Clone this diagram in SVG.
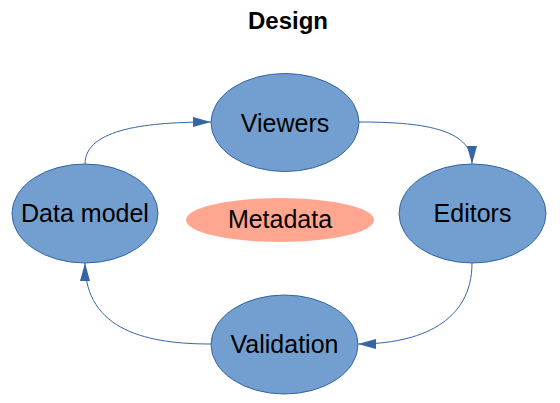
<svg xmlns="http://www.w3.org/2000/svg" width="560" height="403" viewBox="0 0 560 403">
<style>
.node{fill:#729fcf;stroke:#3465a4;stroke-width:1}
.meta{fill:#ffa690;stroke:none}
.lbl{font-family:"Liberation Sans",Arial,sans-serif;font-size:25px;fill:#000;text-anchor:middle}
.title{font-family:"Liberation Sans",Arial,sans-serif;font-size:24px;font-weight:bold;fill:#000;text-anchor:middle}
.conn{fill:none;stroke:#3465a4;stroke-width:1}
</style>
<defs>
<marker id="arr" viewBox="0 0 18 10" refX="18" refY="5" markerWidth="18" markerHeight="10" markerUnits="userSpaceOnUse" orient="auto">
<path d="M0,0 L18,5 L0,10 Z" fill="#3465a4"/>
</marker>
</defs>
<rect width="560" height="403" fill="#fff"/>
<text class="title" x="288" y="29">Design</text>
<g id="connectors">
<path class="conn" d="M85,164 C85,128 150,122 211,122" marker-end="url(#arr)"/>
<path class="conn" d="M359,122 C420,122 472,128 472,164" marker-end="url(#arr)"/>
<path class="conn" d="M472,263 C472,322 420,344 358,344" marker-end="url(#arr)"/>
<path class="conn" d="M211,344 C150,344 85,332 85,263" marker-end="url(#arr)"/>
</g>
<g id="viewers">
<ellipse class="node" cx="285" cy="122.5" rx="74" ry="49"/>
<text class="lbl" x="285" y="131.5">Viewers</text>
</g>
<g id="data-model">
<ellipse class="node" cx="85" cy="213.5" rx="73" ry="49.5"/>
<text class="lbl" x="85" y="222">Data model</text>
</g>
<g id="editors">
<ellipse class="node" cx="472.5" cy="213.5" rx="73.5" ry="49.5"/>
<text class="lbl" x="472.5" y="222">Editors</text>
</g>
<g id="validation">
<ellipse class="node" cx="284.5" cy="344.5" rx="73.5" ry="49.5"/>
<text class="lbl" x="284.5" y="353">Validation</text>
</g>
<g id="metadata">
<ellipse class="meta" cx="280" cy="220" rx="94" ry="22"/>
<text class="lbl" x="280" y="227.5">Metadata</text>
</g>
</svg>
